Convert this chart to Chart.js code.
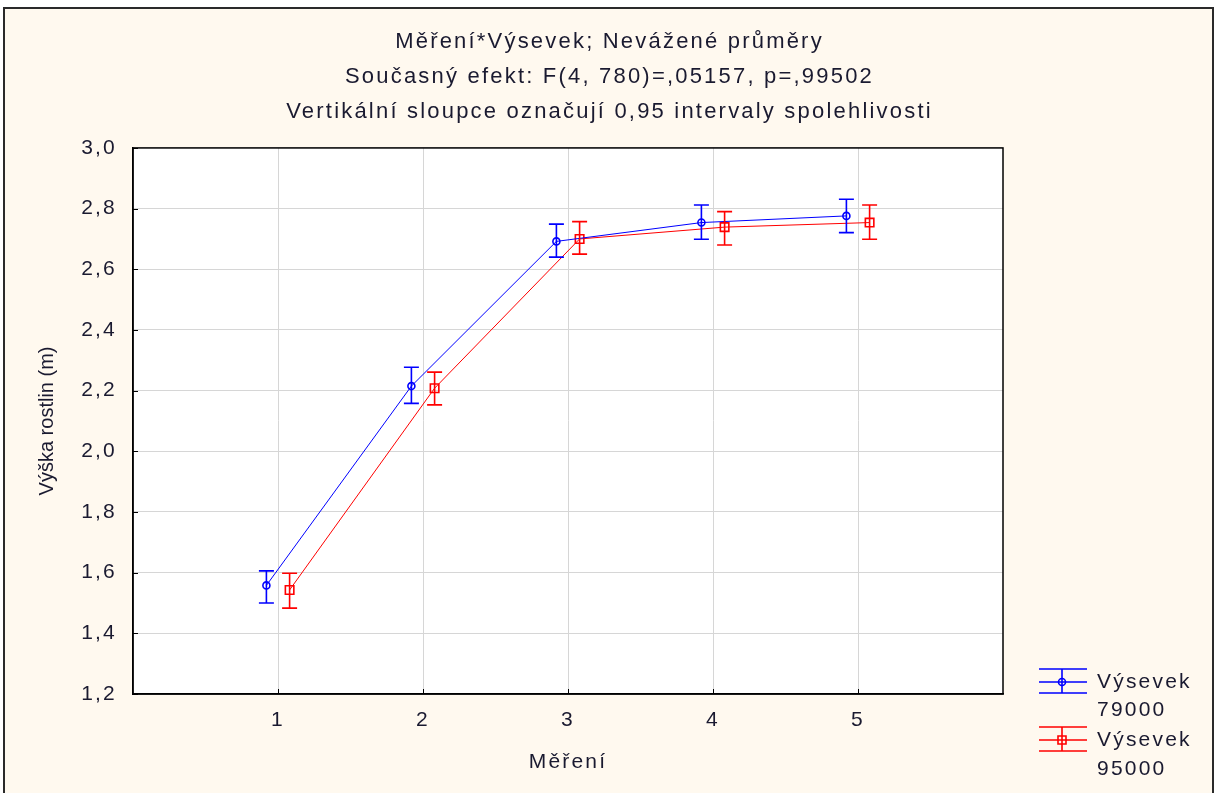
<!DOCTYPE html>
<html><head><meta charset="utf-8">
<script src="https://cdn.jsdelivr.net/npm/chart.js@4.4.1/dist/chart.umd.min.js"></script>
<style>html,body{margin:0;padding:0;background:#fff;}canvas{display:block;}</style>
</head><body>
<canvas id="c" width="1219" height="793"></canvas>
<script>
// ---- data ----
const measurements = [1, 2, 3, 4, 5];
const xTickLabels = ['1', '2', '3', '4', '5'];
const seriesNames = [['Výsevek', '79000'], ['Výsevek', '95000']];
const mean79000 = [1.558, 2.215, 2.692, 2.754, 2.776];
const low79000  = [1.500, 2.158, 2.640, 2.699, 2.721];
const high79000 = [1.606, 2.277, 2.749, 2.812, 2.831];
const mean95000 = [1.543, 2.208, 2.700, 2.739, 2.754];
const low95000  = [1.483, 2.153, 2.650, 2.680, 2.699];
const high95000 = [1.598, 2.261, 2.757, 2.790, 2.812];
const titleLines = ['Měření*Výsevek; Nevážené průměry', 'Současný efekt: F(4, 780)=,05157, p=,99502', 'Vertikální sloupce označují 0,95 intervaly spolehlivosti'];
const xAxisTitle = 'Měření';
const yAxisTitle = 'Výška rostlin (m)';

// ---- style ----
const TEXT = '#1a1a30';
const CREAM = '#FFF9EF';
const BLUE = '#0000FF';
const RED = '#FF0000';
const DODGE = 0.08;
const SPACING = '2.2px';
const FAMILY = "'Liberation Sans', Arial, sans-serif";
Chart.defaults.font.family = FAMILY;

const toPoints = (vals, off) => vals.map((v, i) => ({ x: measurements[i] + off, y: v }));

const spacingPlugin = {
  id: 'spacing',
  beforeUpdate(c) { c.ctx.letterSpacing = SPACING; },
  beforeLayout(c) { c.ctx.letterSpacing = SPACING; },
  beforeDraw(c) { c.ctx.letterSpacing = SPACING; }
};

const bgPlugin = {
  id: 'bg',
  beforeDraw(c) {
    const ctx = c.ctx, a = c.chartArea;
    ctx.save();
    ctx.fillStyle = '#ffffff';
    ctx.fillRect(0, 0, c.width, c.height);
    ctx.fillStyle = CREAM;
    ctx.fillRect(4, 8, 1209, 790);
    ctx.strokeStyle = '#2a2a2a';
    ctx.lineWidth = 2;
    ctx.strokeRect(4, 8, 1209, 800);
    ctx.fillStyle = '#ffffff';
    ctx.fillRect(a.left, a.top, a.right - a.left, a.bottom - a.top);
    ctx.restore();
  }
};

const errorPlugin = {
  id: 'errbars',
  afterDatasetsDraw(c) {
    const ctx = c.ctx, xs = c.scales.x, ys = c.scales.y;
    c.data.datasets.forEach(ds => {
      ctx.save();
      ctx.strokeStyle = ds.borderColor;
      ctx.lineWidth = 1.6;
      ds.data.forEach((p, i) => {
        const x = xs.getPixelForValue(p.x);
        const yl = ys.getPixelForValue(ds.errLow[i]);
        const yh = ys.getPixelForValue(ds.errHigh[i]);
        const w = 7.5;
        ctx.beginPath();
        ctx.moveTo(x, yl); ctx.lineTo(x, yh);
        ctx.moveTo(x - w, yl); ctx.lineTo(x + w, yl);
        ctx.moveTo(x - w, yh); ctx.lineTo(x + w, yh);
        ctx.stroke();
      });
      ctx.restore();
    });
  }
};

const decorPlugin = {
  id: 'decor',
  afterDraw(c) {
    const ctx = c.ctx, a = c.chartArea;
    ctx.save();
    ctx.strokeStyle = '#000';
    ctx.lineWidth = 1.5;
    ctx.strokeRect(a.left, a.top, a.right - a.left, a.bottom - a.top);
    ctx.lineWidth = 1;
    c.scales.y.ticks.forEach(t => {
      const y = Math.round(c.scales.y.getPixelForValue(t.value)) + 0.5;
      ctx.beginPath(); ctx.moveTo(a.left, y); ctx.lineTo(a.left + 5, y); ctx.stroke();
    });
    c.scales.x.ticks.forEach(t => {
      const x = Math.round(c.scales.x.getPixelForValue(t.value)) + 0.5;
      ctx.beginPath(); ctx.moveTo(x, a.bottom); ctx.lineTo(x, a.bottom - 5); ctx.stroke();
    });
    ctx.letterSpacing = '0px';
    ctx.fillStyle = TEXT;
    ctx.font = "20px " + FAMILY;
    ctx.textAlign = 'center';
    ctx.textBaseline = 'middle';
    ctx.translate(47, (a.top + a.bottom) / 2);
    ctx.rotate(-Math.PI / 2);
    ctx.fillText(yAxisTitle, 0, 0);
    ctx.restore();

    // legend
    ctx.save();
    ctx.letterSpacing = SPACING;
    ctx.font = "21px " + FAMILY;
    ctx.fillStyle = TEXT;
    ctx.textAlign = 'left';
    ctx.textBaseline = 'middle';
    const items = [
      { color: BLUE, cy: 682, shape: 'circle', lines: seriesNames[0], ty: [682, 710] },
      { color: RED, cy: 740, shape: 'rect', lines: seriesNames[1], ty: [740, 769] }
    ];
    items.forEach(it => {
      ctx.strokeStyle = it.color;
      ctx.lineWidth = 1.6;
      const x0 = 1039, x1 = 1087, xc = 1062;
      ctx.beginPath();
      ctx.moveTo(x0, it.cy - 13); ctx.lineTo(x1, it.cy - 13);
      ctx.moveTo(x0, it.cy); ctx.lineTo(x1, it.cy);
      ctx.moveTo(x0, it.cy + 11); ctx.lineTo(x1, it.cy + 11);
      ctx.moveTo(xc, it.cy - 13); ctx.lineTo(xc, it.cy + 11);
      ctx.stroke();
      ctx.beginPath();
      if (it.shape === 'circle') ctx.arc(xc, it.cy, 3.5, 0, Math.PI * 2);
      else ctx.rect(xc - 4, it.cy - 4, 8, 8);
      ctx.stroke();
      it.lines.forEach((t, k) => ctx.fillText(t, 1097, it.ty[k]));
    });
    ctx.restore();
  }
};

new Chart(document.getElementById('c'), {
  type: 'line',
  data: {
    datasets: [
      {
        label: seriesNames[0].join(' '),
        data: toPoints(mean79000, -DODGE),
        errLow: low79000, errHigh: high79000,
        borderColor: BLUE, backgroundColor: 'rgba(0,0,0,0)',
        borderWidth: 1, tension: 0,
        pointStyle: 'circle', pointRadius: 3.5, pointBorderWidth: 1.6,
        pointBorderColor: BLUE, pointBackgroundColor: 'rgba(0,0,0,0)'
      },
      {
        label: seriesNames[1].join(' '),
        data: toPoints(mean95000, DODGE),
        errLow: low95000, errHigh: high95000,
        borderColor: RED, backgroundColor: 'rgba(0,0,0,0)',
        borderWidth: 1, tension: 0,
        pointStyle: 'rect', pointRadius: 6, pointBorderWidth: 1.6,
        pointBorderColor: RED, pointBackgroundColor: 'rgba(0,0,0,0)'
      }
    ]
  },
  options: {
    responsive: false, animation: false, devicePixelRatio: 1,
    layout: { padding: 0 },
    plugins: {
      legend: { display: false },
      tooltip: { enabled: false },
      title: {
        display: true, text: titleLines, color: TEXT,
        font: { size: 22, weight: 'normal', lineHeight: 1.59 },
        padding: { top: 24, bottom: 19 }
      }
    },
    scales: {
      x: {
        type: 'linear', min: 0, max: 6,
        afterBuildTicks: s => { s.ticks = measurements.map(v => ({ value: v })); },
        afterFit: s => { s.height = 99; },
        ticks: {
          color: TEXT, font: { size: 21 }, padding: 14,
          callback: v => xTickLabels[measurements.indexOf(v)] ?? ''
        },
        grid: { color: '#d6d6d6', drawTicks: false },
        border: { display: true, color: '#000', width: 1.5 },
        title: { display: true, text: xAxisTitle, color: TEXT, font: { size: 21 }, padding: { top: 0, bottom: 18 } }
      },
      y: {
        type: 'linear', min: 1.2, max: 3.0,
        afterFit: s => { s.width = 133; },
        ticks: {
          stepSize: 0.2, color: TEXT, font: { size: 21 }, padding: 16,
          callback: v => Number(v).toFixed(1).replace('.', ',')
        },
        grid: { color: '#d6d6d6', drawTicks: false },
        border: { display: true, color: '#000', width: 1.5 }
      },
      yR: {
        type: 'linear', position: 'right', display: true,
        afterFit: s => { s.width = 216; },
        ticks: { display: false },
        grid: { display: false, drawTicks: false },
        border: { display: false }
      }
    }
  },
  plugins: [spacingPlugin, bgPlugin, errorPlugin, decorPlugin]
});
</script>
</body></html>
